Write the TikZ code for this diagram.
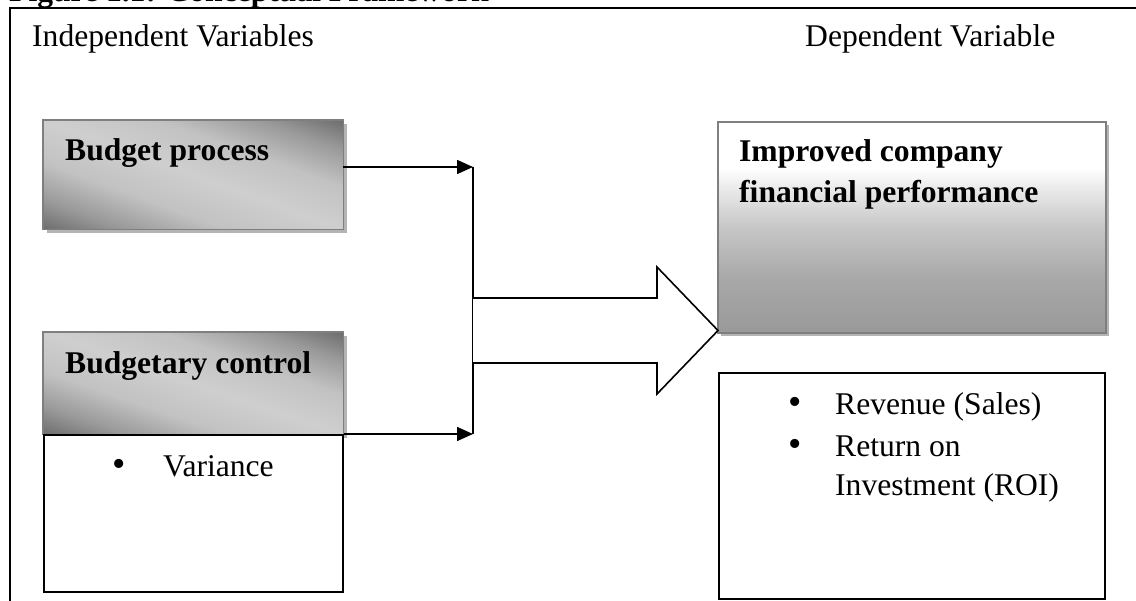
\documentclass[tikz,border=0pt]{standalone}
\usepackage{fontspec}
\setmainfont{Liberation Serif}
\usetikzlibrary{arrows.meta,shadows}
\definecolor{gborder}{HTML}{7F7F7F}
\definecolor{gshadow}{HTML}{B4B4B4}
\pgfdeclareverticalshading{impshade}{100bp}{rgb(0bp)=(.6,.6,.6); rgb(25bp)=(.6,.6,.6); rgb(38bp)=(.66,.66,.66); rgb(50bp)=(.78,.78,.78); rgb(60bp)=(.93,.93,.93); rgb(64bp)=(1,1,1); rgb(100bp)=(1,1,1)}
\pgfdeclareverticalshading{gshade}{100bp}{rgb(0bp)=(.41,.41,.41); rgb(26bp)=(.41,.41,.41); rgb(33bp)=(.6,.6,.6); rgb(41bp)=(.76,.76,.76); rgb(50bp)=(.81,.81,.81); rgb(59bp)=(.76,.76,.76); rgb(67bp)=(.6,.6,.6); rgb(74bp)=(.41,.41,.41); rgb(100bp)=(.41,.41,.41)}
\tikzset{
  lbl/.style={inner sep=0pt, font=\fontsize{31.6}{41}\selectfont},
  blbl/.style={inner sep=0pt, font=\fontsize{31.6}{41}\selectfont\bfseries, align=left},
  bul/.style={inner sep=0pt, font=\fontsize{38}{38}\selectfont, anchor=base},
  gbox/.style={fill=white, inner sep=0pt, anchor=north west,
    drop shadow={shadow xshift=3.5pt, shadow yshift=-3.5pt, fill=gshadow, opacity=1}},
  gborderline/.style={draw=gborder, line width=1.6pt},
  ibox/.style={draw=gborder, line width=1.6pt, shading=impshade, inner sep=0pt, anchor=north west,
    drop shadow={shadow xshift=3.5pt, shadow yshift=-3.5pt, fill=gshadow, opacity=1}},
  wbox/.style={draw=black, line width=1.6pt, fill=white, inner sep=0pt, anchor=north west},
  conn/.style={line width=1.6pt, line join=miter},
  arr/.style={conn, -{Triangle[length=16pt,width=14pt]}},
}
\begin{document}
\begin{tikzpicture}[x=1pt,y=-1pt]
\useasboundingbox (0,0) rectangle (1136,601);
\clip (0,0) rectangle (1136,601);
\fill[white] (0,0) rectangle (1136,601);
% title (cut off at the top, as in the reference)
\node[inner sep=0pt, font=\fontsize{31.6}{34}\selectfont\bfseries, anchor=base west] (title) at (9,1.5) {Figure 1.1: Conceptual Framework};
% outer frame
\draw[line width=1.6pt] (10,620) -- (10,8) -- (1150,8);
% headings
\node[lbl, anchor=base west] (indep) at (32,47) {Independent Variables};
\node[lbl, anchor=base west] (dep) at (805,47) {Dependent Variable};
% budget process
\node[gbox, minimum width=300pt, minimum height=109pt] (bp) at (43,120) {};
\begin{scope}
  \clip (bp.north west) rectangle (bp.south east);
  \shade[shading=gshade, transform canvas={shift={(bp.center)}, rotate=-20}] (-170,-110) rectangle (170,110);
\end{scope}
\draw[gborderline] (bp.north west) rectangle (bp.south east);
\node[blbl, anchor=base west] (bpt) at (65,161) {Budget process};
% budgetary control
\node[gbox, minimum width=300pt, minimum height=102pt] (bc) at (43,332) {};
\begin{scope}
  \clip (bc.north west) rectangle (bc.south east);
  \shade[shading=gshade, transform canvas={shift={(bc.center)}, rotate=-19}] (-170,-104) rectangle (170,104);
\end{scope}
\draw[gborderline] (bc.north west) rectangle (bc.south east);
\node[blbl, anchor=base west] (bct) at (65,374) {Budgetary control};
\node[wbox, minimum width=299pt, minimum height=157pt] (bcw) at (43,434) {};
\node[bul] (b1) at (119,477) {•};
\node[lbl, anchor=base west] (var) at (163,477) {Variance};
% improved company financial performance
\node[ibox, minimum width=388pt, minimum height=211pt] (imp) at (717,121) {};
\node[blbl, anchor=base west] (impt) at (739,203) {Improved company\\financial performance};
% results box
\node[wbox, minimum width=386pt, minimum height=226pt] (res) at (718,372) {};
\node[bul] (b2) at (795,415) {•};
\node[lbl, anchor=base west] (rev) at (835,415) {Revenue (Sales)};
\node[bul] (b3) at (795,457) {•};
\node[lbl, anchor=base west] (ret) at (835,457) {Return on};
\node[lbl, anchor=base west] (inv) at (835,496) {Investment (ROI)};
% connectors
\coordinate (j1) at (473,167);
\coordinate (j2) at (473,434);
\draw[arr] (bp.east |- j1) -- (j1);
\draw[arr] (bcw.north east |- j2) -- (j2);
\draw[conn] (j1) -- (j2);
% block arrow
\coordinate (tip) at (718,330.5);
\draw[conn, fill=white] (473,298) -- (657,298) -- (657,267) -- (tip) -- (657,394) -- (657,363) -- (473,363);
\end{tikzpicture}
\end{document}
